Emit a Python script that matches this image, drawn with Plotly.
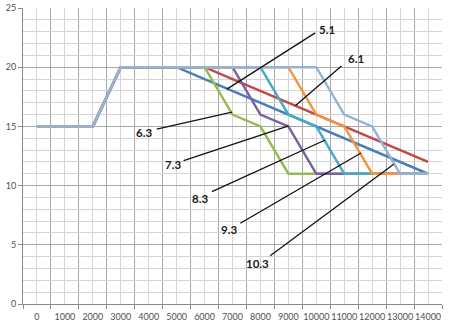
import plotly.graph_objects as go

# Shared x categories (distance) and tick labels
x_vals = [0, 1000, 2000, 3000, 4000, 5000, 6000, 7000, 8000, 9000, 10000, 11000, 12000, 13000, 14000]
x_labels = [str(v) for v in x_vals]

# Series values, one list per curve
s_5_1 = [15, 15, 15, 20, 20, 20, 19, 18, 17, 16, 15, 14, 13, 12, 11]
s_6_1 = [15, 15, 15, 20, 20, 20, 20, 19, 18, 17, 16, 15, 14, 13, 12]
s_6_3 = [15, 15, 15, 20, 20, 20, 20, 16, 15, 11, 11, 11, 11, 11, 11]
s_7_3 = [15, 15, 15, 20, 20, 20, 20, 20, 16, 15, 11, 11, 11, 11, 11]
s_8_3 = [15, 15, 15, 20, 20, 20, 20, 20, 20, 16, 15, 11, 11, 11, 11]
s_9_3 = [15, 15, 15, 20, 20, 20, 20, 20, 20, 20, 16, 15, 11, 11, 11]
s_10_3 = [15, 15, 15, 20, 20, 20, 20, 20, 20, 20, 20, 16, 15, 11, 11]

series_names = ["5.1", "6.1", "6.3", "7.3", "8.3", "9.3", "10.3"]
series_values = [s_5_1, s_6_1, s_6_3, s_7_3, s_8_3, s_9_3, s_10_3]
series_colors = ["#4A7EBB", "#BE4B48", "#98B954", "#7D60A0", "#46AAC5", "#F59541", "#95B3D7"]

# Callout labels: text position, leader-line start and end (data units)
callouts = [
    ("5.1", (10400, 23.2), (9960, 22.9), (6800, 18.15)),
    ("6.1", (11420, 20.7), (10900, 20.1), (9250, 16.75)),
    ("6.3", (3830, 14.45), (4290, 14.76), (6980, 16.2)),
    ("7.3", (4870, 11.75), (5250, 12.1), (9010, 15.05)),
    ("8.3", (5850, 8.93), (6265, 9.49), (10320, 13.85)),
    ("9.3", (6860, 6.27), (7280, 6.82), (11600, 12.75)),
    ("10.3", (7880, 3.45), (8350, 4.07), (12770, 11.8)),
]

fig = go.Figure()
for name, vals, color in zip(series_names, series_values, series_colors):
    fig.add_trace(go.Scatter(
        x=x_vals, y=vals, name=name, mode="lines",
        line=dict(color=color, width=2.5),
        hoverinfo="skip",
    ))

for label, text_pos, tail, head in callouts:
    fig.add_shape(type="line", xref="x", yref="y",
                  x0=tail[0], y0=tail[1], x1=head[0], y1=head[1],
                  line=dict(color="#111111", width=1.3))
    fig.add_annotation(x=text_pos[0], y=text_pos[1], text="<b>%s</b>" % label,
                       showarrow=False, xref="x", yref="y",
                       font=dict(family="Lato", size=11.5, color="#1a1a1a"))

light_grid = "#D4D4D4"
dark_grid = "#A8A8A8"
axis_col = "#8A8A8A"

fig.update_layout(
    width=453, height=328,
    margin=dict(l=23, r=11, t=8, b=24),
    paper_bgcolor="white", plot_bgcolor="white",
    showlegend=False,
    font=dict(family="Lato", size=9, color="#505050"),
    xaxis=dict(
        range=[-500, 14500],
        tickmode="array", tickvals=x_vals, ticktext=x_labels,
        tickangle=0, automargin=False,
        ticks="outside", ticklen=4, tickcolor="rgba(0,0,0,0)",
        showgrid=True, gridcolor=light_grid, gridwidth=1,
        zeroline=False,
        showline=True, linecolor=axis_col, linewidth=1,
        minor=dict(
            tickmode="array",
            tickvals=[v - 500 for v in x_vals] + [14500],
            showgrid=True, gridcolor=dark_grid, gridwidth=1,
            ticks="outside", ticklen=4, tickcolor=axis_col,
        ),
        fixedrange=True,
    ),
    yaxis=dict(
        range=[0, 25],
        tickmode="linear", tick0=0, dtick=5,
        automargin=False,
        ticks="outside", ticklen=4, tickcolor=axis_col,
        showgrid=True, gridcolor=dark_grid, gridwidth=1,
        zeroline=False,
        showline=True, linecolor=axis_col, linewidth=1,
        minor=dict(dtick=1, showgrid=True, gridcolor=light_grid, gridwidth=1),
        fixedrange=True,
    ),
)

fig.write_html("out.html", config={"displayModeBar": False})
